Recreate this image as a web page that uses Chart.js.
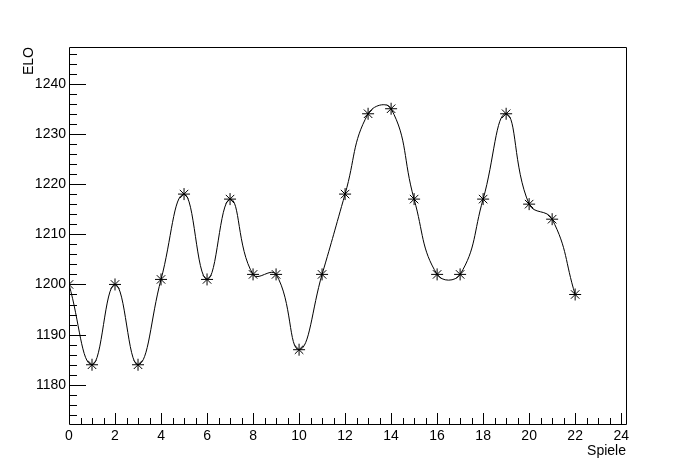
<!DOCTYPE html>
<html>
<head>
<meta charset="utf-8">
<script src="https://cdn.jsdelivr.net/npm/chart.js@4/dist/chart.umd.min.js"></script>
<style>
html,body{margin:0;padding:0;background:#fff;}
#wrap{width:696px;height:472px;position:relative;}
</style>
</head>
<body>
<div id="wrap"><canvas id="c" width="696" height="472"></canvas></div>
<script>
// Data
const games = [0,1,2,3,4,5,6,7,8,9,10,11,12,13,14,15,16,17,18,19,20,21,22];
const elo = [1200,1184,1200,1184,1201,1218,1201,1217,1202,1202,1187,1202,1218,1234,1235,1217,1202,1202,1217,1234,1216,1213,1198];
const xTickValues = [0,2,4,6,8,10,12,14,16,18,20,22,24];
const yTickValues = [1180,1190,1200,1210,1220,1230,1240];
const xTitle = 'Spiele';
const yTitle = 'ELO';

const FONT = {family: '"Liberation Sans", Arial, Helvetica, sans-serif', size: 14};

const rootTicks = {
  id: 'rootTicks',
  afterDraw(chart) {
    const ctx = chart.ctx, a = chart.chartArea;
    const xs = chart.scales.x, ys = chart.scales.y;
    ctx.save();
    ctx.strokeStyle = '#000';
    ctx.lineWidth = 1;
    ctx.beginPath();
    ctx.rect(Math.round(a.left)+0.5, Math.round(a.top)+0.5, Math.round(a.right-a.left), Math.round(a.bottom-a.top));
    ctx.stroke();
    ctx.beginPath();
    for (let v = xs.min; v <= xs.max + 1e-9; v += 0.5) {
      const px = Math.round(xs.getPixelForValue(v)) + 0.5;
      const major = Math.abs(v/2 - Math.round(v/2)) < 1e-9;
      const len = major ? 11 : 6;
      ctx.moveTo(px, a.bottom);
      ctx.lineTo(px, a.bottom - len);
    }
    const y0 = Math.ceil(ys.min/2)*2;
    for (let v = y0; v <= ys.max + 1e-9; v += 2) {
      const py = Math.round(ys.getPixelForValue(v)) + 0.5;
      const major = v % 10 === 0;
      const len = major ? 17 : 8;
      ctx.moveTo(a.left, py);
      ctx.lineTo(a.left + len, py);
    }
    ctx.stroke();
    ctx.restore();
  }
};

new Chart(document.getElementById('c'), {
  type: 'line',
  data: {
    datasets: [{
      data: games.map((g,i) => ({x: g, y: elo[i]})),
      borderColor: '#000',
      borderWidth: 1,
      tension: 0.45,
      fill: false,
      pointStyle: 'star',
      pointRadius: 6,
      pointBorderColor: '#000',
      pointBorderWidth: 1,
      pointBackgroundColor: '#000'
    }]
  },
  options: {
    responsive: false,
    animation: false,
    devicePixelRatio: 1,
    layout: {padding: {left: 0, top: 47, right: 70, bottom: 0}},
    plugins: {legend: {display: false}, tooltip: {enabled: false}},
    scales: {
      x: {
        type: 'linear',
        min: 0, max: 24.21,
        afterBuildTicks: s => { s.ticks = xTickValues.map(v => ({value: v})); },
        afterFit: s => { s.height = 48; },
        grid: {display: false, drawTicks: false},
        border: {display: false},
        ticks: {color: '#000', font: FONT, padding: 4, maxRotation: 0, autoSkip: false, callback: v => String(v)},
        title: {display: true, text: xTitle, align: 'end', color: '#000', font: FONT, padding: {top: 12, bottom: 12}}
      },
      y: {
        type: 'linear',
        min: 1172.2, max: 1247.3,
        afterBuildTicks: s => { s.ticks = yTickValues.map(v => ({value: v})); },
        afterFit: s => { s.width = 69; },
        grid: {display: false, drawTicks: false},
        border: {display: false},
        ticks: {color: '#000', font: FONT, padding: 3, autoSkip: false, callback: v => String(v)},
        title: {display: true, text: yTitle, align: 'end', color: '#000', font: FONT, padding: {top: 21, bottom: 0}}
      }
    }
  },
  plugins: [rootTicks]
});
</script>
</body>
</html>
